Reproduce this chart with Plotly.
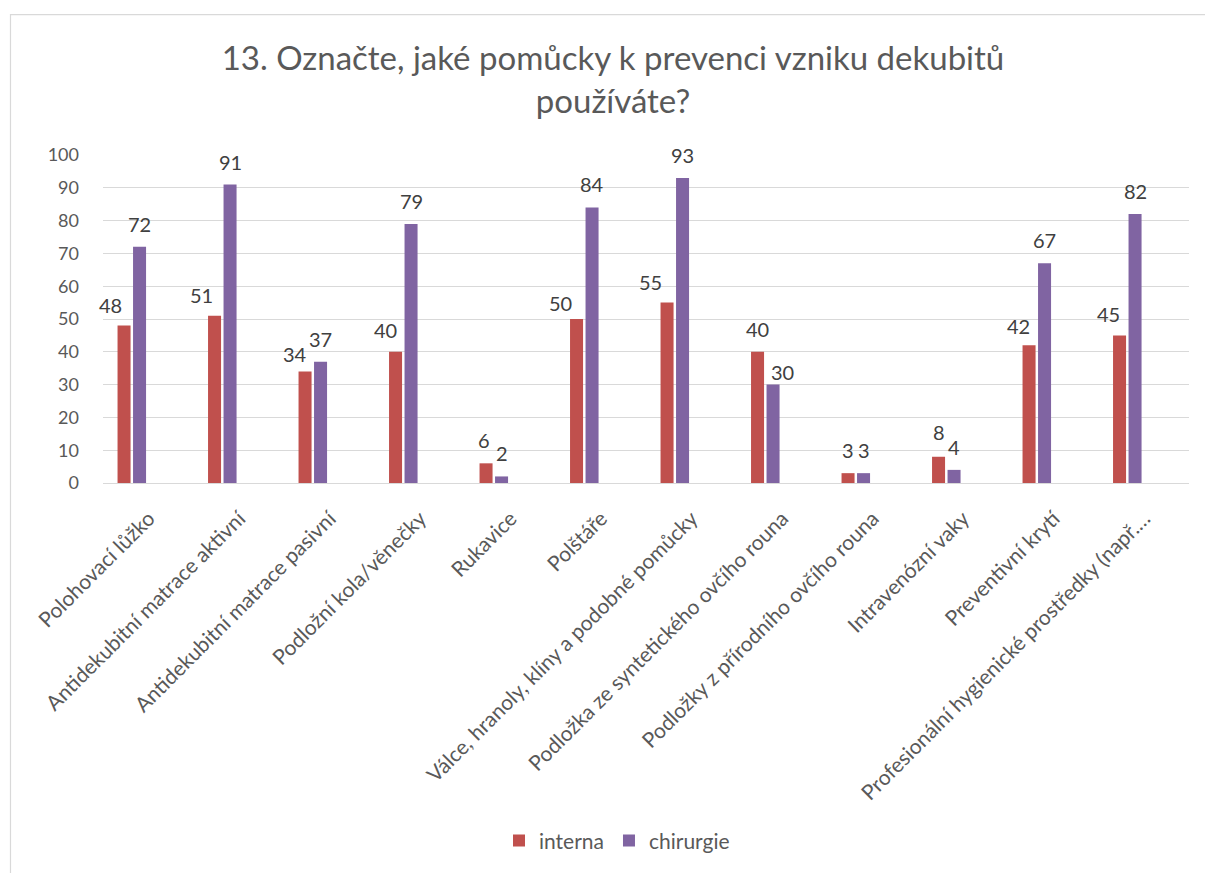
import plotly.graph_objects as go

categories = [
    "Polohovací lůžko",
    "Antidekubitní matrace aktivní",
    "Antidekubitní matrace pasivní",
    "Podložní kola/věnečky",
    "Rukavice",
    "Polštáře",
    "Válce, hranoly, klíny a podobné pomůcky",
    "Podložka ze syntetického ovčího rouna",
    "Podložky z přírodního ovčího rouna",
    "Intravenózní vaky",
    "Preventivní krytí",
    "Profesionální hygienické prostředky (např.…",
]
interna = [48, 51, 34, 40, 6, 50, 55, 40, 3, 8, 42, 45]
chirurgie = [72, 91, 37, 79, 2, 84, 93, 30, 3, 4, 67, 82]
series_names = ["interna", "chirurgie"]
y_ticks = [0, 10, 20, 30, 40, 50, 60, 70, 80, 90, 100]

# styling
RED = "#C0504D"
PURPLE = "#8064A2"
TXT = "#595959"
LBL = "#404040"
GRID = "#D9D9D9"
FONT = "Lato"

W, H = 1205, 873
ML, MR, MT, MB = 103, 16, 155, 389.5
plot_w = W - ML - MR
plot_h = H - MT - MB

fig = go.Figure()
fig.add_trace(go.Bar(name=series_names[0], x=categories, y=interna,
                     marker=dict(color=RED, line=dict(width=0))))
fig.add_trace(go.Bar(name=series_names[1], x=categories, y=chirurgie,
                     marker=dict(color=PURPLE, line=dict(width=0))))

# data labels (pixel nudges mimic Excel's label placement)
slot = 15.5
red_nudge = {0: (-14, -2), 1: (-13, -2), 2: (-10, -6), 3: (-10, -1), 4: (-2, 0),
             5: (-16, -7), 6: (-17, -2), 9: (0, 2), 10: (-11, -4), 11: (-11, -2)}
pur_nudge = {7: (9, -10)}
base_shift = 9
annotations = []
for i, c in enumerate(categories):
    for vals, off, nudge in ((interna, -slot / 2, red_nudge), (chirurgie, slot / 2, pur_nudge)):
        dx, dy = nudge.get(i, (0, 0))
        annotations.append(dict(
            x=c, y=vals[i], xref="x", yref="y", text=str(vals[i]), showarrow=False,
            xanchor="center", yanchor="bottom", xshift=off + dx, yshift=base_shift + dy,
            font=dict(family=FONT, size=20, color=LBL)))

def px_to_paper_x(px):
    return (px - ML) / plot_w

def px_to_paper_y(py):
    return (H - MB - py) / plot_h

fig.update_layout(
    width=W, height=H,
    margin=dict(l=ML, r=MR, t=MT, b=MB, pad=0),
    paper_bgcolor="white", plot_bgcolor="white",
    font=dict(family=FONT, color=TXT),
    title=dict(
        text="13. Označte, jaké pomůcky k prevenci vzniku dekubitů<br>používáte?",
        x=613 / W, xanchor="center", xref="container",
        y=1 - 70 / H, yanchor="top", yref="container",
        font=dict(family=FONT, size=33, color=TXT),
    ),
    barmode="group",
    bargap=1 - 2 * slot / 90.5,
    bargroupgap=0.16,
    showlegend=True,
    legend=dict(
        orientation="h", x=px_to_paper_x(617), xanchor="center",
        y=px_to_paper_y(842), yanchor="middle",
        font=dict(family=FONT, size=21, color=TXT),
        itemwidth=30, traceorder="normal",
    ),
    annotations=annotations,
    shapes=[dict(type="rect", xref="paper", yref="paper",
                 x0=px_to_paper_x(10.5), x1=px_to_paper_x(1215),
                 y0=px_to_paper_y(890), y1=px_to_paper_y(14.5),
                 line=dict(color=GRID, width=1.2), fillcolor="rgba(0,0,0,0)",
                 layer="below")],
)

first_center = 131.8
spacing = 90.5
fig.update_xaxes(
    type="category",
    range=[(ML - first_center) / spacing, (W - MR - first_center) / spacing],
    tickangle=-45,
    tickfont=dict(family=FONT, size=21, color=TXT),
    showgrid=False, zeroline=False,
    showline=True, linecolor=GRID, linewidth=1,
    ticks="", ticklabelstandoff=14, ticklabelshift=17,
)
fig.update_yaxes(
    range=[0, 100], tickvals=y_ticks,
    tickfont=dict(family=FONT, size=18, color=TXT),
    showgrid=True, gridcolor=GRID, gridwidth=1,
    zeroline=False, showline=False, ticks="",
    ticklabelstandoff=23,
)

fig.write_html("out.html")
